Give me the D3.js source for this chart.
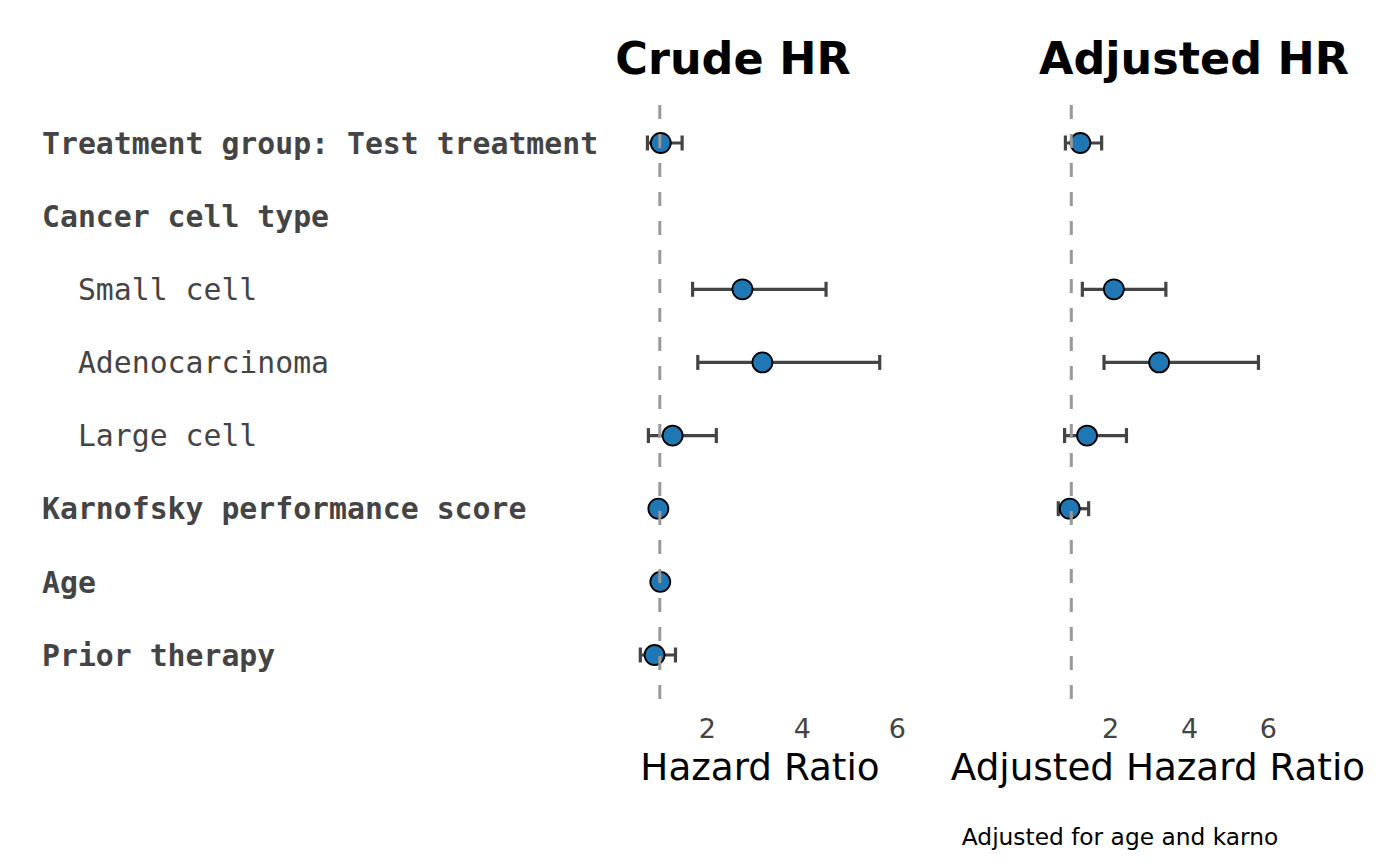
<!DOCTYPE html>
<html>
<head>
<meta charset="utf-8">
<script src="https://cdn.jsdelivr.net/npm/d3@7"></script>
<style>
  body { margin: 0; background: #fff; }
  svg { display: block; }
</style>
</head>
<body>
<div id="chart-area"></div>
<script>
// Row labels (two leading spaces = sub-level)
var labels = [
    "Treatment group: Test treatment",
    "Cancer cell type",
    "  Small cell",
    "  Adenocarcinoma",
    "  Large cell",
    "Karnofsky performance score",
    "Age",
    "Prior therapy"
];
var boldRow = [true, true, false, false, false, true, true, true];

// Crude hazard ratios with 95% CI
var crudeHR = [1.02, null, 2.74, 3.16, 1.27, 0.97, 1.01, 0.89];
var crudeLo = [0.74, null, 1.69, 1.80, 0.76, 0.96, 1.00, 0.59];
var crudeHi = [1.47, null, 4.50, 5.63, 2.19, 0.98, 1.02, 1.33];

// Adjusted hazard ratios with 95% CI
var adjHR = [1.23, null, 2.08, 3.23, 1.40, 0.96, null, null];
var adjLo = [0.85, null, 1.28, 1.83, 0.83, 0.67, null, null];
var adjHi = [1.77, null, 3.40, 5.75, 2.40, 1.44, null, null];

var tickValues = [2, 4, 6];
var refValue = 1;

var width = 1400, height = 865;

var svg = d3.select("#chart-area")
    .append("svg")
        .attr("width", width)
        .attr("height", height);

// Y scale: one slot per row
var y = d3.scalePoint()
    .domain(d3.range(labels.length))
    .range([143, 655]);

// Row labels
svg.append("g")
    .selectAll("text")
    .data(labels)
    .enter()
    .append("text")
        .attr("x", 42)
        .attr("y", function(d, i){ return y(i); })
        .attr("dy", "0.36em")
        .attr("font-family", "DejaVu Sans Mono")
        .attr("font-size", "29.8px")
        .attr("font-weight", function(d, i){ return boldRow[i] ? "bold" : "normal"; })
        .attr("fill", "#444")
        .style("white-space", "pre")
        .text(function(d){ return d; });

function drawPanel(opts) {
    var x = d3.scaleLinear()
        .domain([0, 7])
        .range(opts.range);

    var g = svg.append("g");

    var rows = d3.range(labels.length).filter(function(i){ return opts.hr[i] != null; });

    // Error bars
    g.selectAll("line.ci")
        .data(rows)
        .enter()
        .append("line")
            .attr("class", "ci")
            .attr("x1", function(i){ return x(opts.lo[i]); })
            .attr("x2", function(i){ return x(opts.hi[i]); })
            .attr("y1", function(i){ return y(i); })
            .attr("y2", function(i){ return y(i); })
            .attr("stroke", "#444")
            .attr("stroke-width", 3.2);

    [opts.lo, opts.hi].forEach(function(arr){
        g.selectAll(null)
            .data(rows)
            .enter()
            .append("line")
                .attr("x1", function(i){ return x(arr[i]); })
                .attr("x2", function(i){ return x(arr[i]); })
                .attr("y1", function(i){ return y(i) - 7.5; })
                .attr("y2", function(i){ return y(i) + 7.5; })
                .attr("stroke", "#444")
                .attr("stroke-width", 3.2);
    });

    // Points
    g.selectAll("circle")
        .data(rows)
        .enter()
        .append("circle")
            .attr("cx", function(i){ return x(opts.hr[i]); })
            .attr("cy", function(i){ return y(i); })
            .attr("r", 10)
            .attr("fill", "#1f77b4")
            .attr("stroke", "#000")
            .attr("stroke-width", 1.8);

    // Reference line at HR = 1
    g.append("line")
        .attr("x1", x(refValue))
        .attr("x2", x(refValue))
        .attr("y1", 105)
        .attr("y2", 700)
        .attr("stroke", "#999")
        .attr("stroke-width", 3)
        .attr("stroke-dasharray", "14,15");

    // X axis (ticks only)
    g.selectAll("text.tick")
        .data(tickValues)
        .enter()
        .append("text")
            .attr("class", "tick")
            .attr("x", function(d){ return x(d); })
            .attr("y", 738)
            .attr("text-anchor", "middle")
            .attr("font-family", "DejaVu Sans")
            .attr("font-size", "27px")
            .attr("fill", "#444")
            .text(function(d){ return d; });

    // Title
    g.append("text")
        .attr("x", opts.titleX)
        .attr("y", 74)
        .attr("text-anchor", "middle")
        .attr("font-family", "DejaVu Sans")
        .attr("font-weight", "bold")
        .attr("font-size", "44.5px")
        .attr("fill", "#000")
        .text(opts.title);

    // X label
    g.append("text")
        .attr("x", opts.labelX)
        .attr("y", 780)
        .attr("text-anchor", "middle")
        .attr("font-family", "DejaVu Sans")
        .attr("font-size", "37.3px")
        .attr("fill", "#000")
        .text(opts.xLabel);
}

drawPanel({
    range: [612.3, 944.8],
    hr: crudeHR, lo: crudeLo, hi: crudeHi,
    title: "Crude HR", titleX: 733,
    xLabel: "Hazard Ratio", labelX: 760
});

drawPanel({
    range: [1031.9, 1307.7],
    hr: adjHR, lo: adjLo, hi: adjHi,
    title: "Adjusted HR", titleX: 1194,
    xLabel: "Adjusted Hazard Ratio", labelX: 1158
});

// Footnote
svg.append("text")
    .attr("x", 1120)
    .attr("y", 845)
    .attr("text-anchor", "middle")
    .attr("font-family", "DejaVu Sans")
    .attr("font-size", "23.3px")
    .attr("fill", "#000")
    .text("Adjusted for age and karno");
</script>
</body>
</html>
